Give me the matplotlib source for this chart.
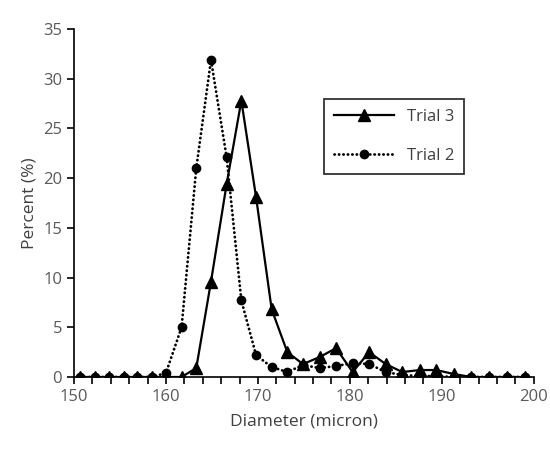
import numpy as np
import matplotlib.pyplot as plt

plt.rcParams['font.family'] = ['Open Sans', 'DejaVu Sans']

# bin centres (micron)
diameter = [150.7, 152.3, 153.8, 155.4, 156.9, 158.5, 160.0, 161.7, 163.3, 164.9,
            166.6, 168.2, 169.8, 171.5, 173.2, 174.9, 176.7, 178.5, 180.3, 182.1,
            183.9, 185.7, 187.6, 189.4, 191.3, 193.2, 195.1, 197.1, 199.1]
trial3 = [0, 0, 0, 0, 0, 0, 0, 0, 0.9, 9.6,
          19.4, 27.8, 18.1, 6.8, 2.5, 1.3, 2.0, 2.9, 0.5, 2.5,
          1.3, 0.5, 0.7, 0.7, 0.3, 0, 0, 0, 0]
trial2 = [0, 0, 0, 0, 0, 0, 0.4, 5.0, 21.0, 31.9,
          22.1, 7.7, 2.2, 1.0, 0.5, 1.2, 0.9, 1.1, 1.4, 1.3,
          0.5, 0.2, 0.1, 0.1, 0, 0, 0, 0, 0]

fig = plt.figure(figsize=(5.5, 4.54), dpi=100)
ax = fig.add_axes([0.1345, 0.1696, 0.836, 0.7664])

ax.plot(diameter, trial3, '-', color='black', lw=1.6, marker='^', ms=8, label='Trial 3')
ax.plot(diameter, trial2, color='black', lw=2, ls=(0, (0.1, 1.5)), dash_capstyle='round',
        marker='o', ms=6, label='Trial 2')

ax.set_xlim(150, 200)
ax.set_ylim(0, 35)
ax.set_xticks(np.arange(150, 201, 10))
ax.set_xticks(np.arange(150, 201, 2), minor=True)
ax.set_yticks(np.arange(0, 36, 5))
ax.tick_params(axis='both', which='major', direction='out', length=5, width=1.2,
               labelsize=12, labelcolor='#595959')
ax.tick_params(axis='x', which='minor', direction='out', length=5, width=1.2)
for s in ['top', 'right']:
    ax.spines[s].set_visible(False)
for s in ['left', 'bottom']:
    ax.spines[s].set_linewidth(1.2)

ax.set_xlabel('Diameter (micron)', fontsize=12.5, color='#404040', labelpad=6)
ax.set_ylabel('Percent (%)', fontsize=12.5, color='#404040', labelpad=4)

leg = ax.legend(loc='upper left', bbox_to_anchor=(0.543, 0.80), fontsize=12,
                frameon=True, fancybox=False, edgecolor='black', handlelength=3.6,
                labelspacing=1.4, borderpad=0.6, borderaxespad=0)
leg.get_frame().set_linewidth(1.3)
for t in leg.get_texts():
    t.set_color('#404040')

fig.savefig('out.png', dpi=100)
